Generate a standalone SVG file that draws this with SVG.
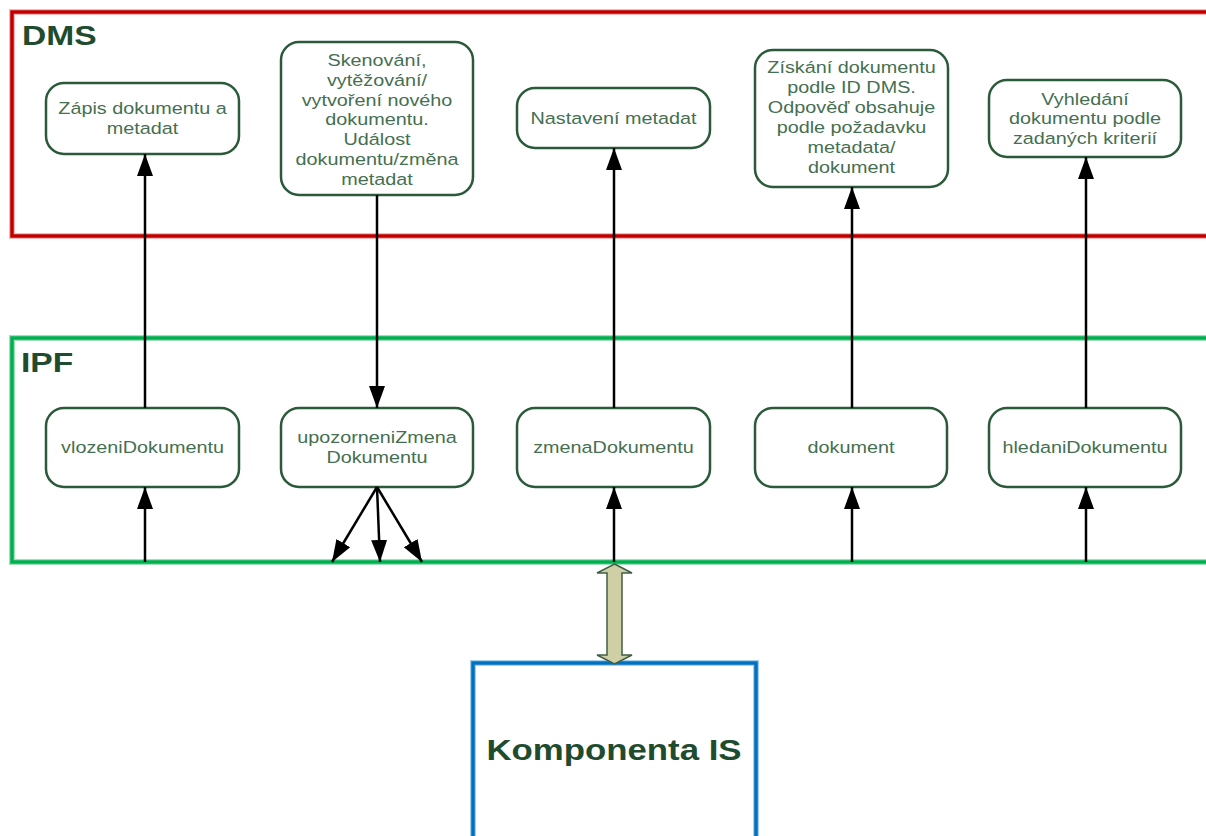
<svg xmlns="http://www.w3.org/2000/svg" width="1206" height="836" viewBox="0 0 1206 836">
  <defs>
    <marker id="ah" markerUnits="userSpaceOnUse" markerWidth="22" markerHeight="18" refX="22" refY="9" orient="auto">
      <path d="M0,1 L22,9 L0,17 Z" fill="#000"/>
    </marker>
    <style>
      .node rect { fill: #ffffff; stroke: #2b5a3a; stroke-width: 2.5; }
      .nt { font-family: "Liberation Sans", Arial, sans-serif; font-size: 16.5px; fill: #456f51; text-anchor: middle; }
      .lbl { font-family: "Liberation Sans", Arial, sans-serif; font-size: 28px; font-weight: bold; fill: #1f4c2e; }
      .conn line { stroke: #000; stroke-width: 2.5; fill: none; marker-end: url(#ah); }
    </style>
  </defs>
  <rect width="1206" height="836" fill="#ffffff"/>

  <g id="dms">
    <rect x="12" y="12" width="1210" height="224" fill="none" stroke="#f4b8b8" stroke-width="6"/>
    <rect x="12" y="12" width="1210" height="224" fill="none" stroke="#c00000" stroke-width="3.5"/>
    <text class="lbl" transform="translate(22 45) scale(1.2 1)" x="0" y="0">DMS</text>
  </g>

  <g id="ipf">
    <rect x="12" y="338" width="1210" height="224" fill="none" stroke="#9fe0b8" stroke-width="6"/>
    <rect x="12" y="338" width="1210" height="224" fill="none" stroke="#00b050" stroke-width="3.5"/>
    <text class="lbl" transform="translate(21 372) scale(1.2 1)" x="0" y="0">IPF</text>
  </g>

  <g id="komponenta">
    <rect x="473" y="663" width="283" height="200" fill="none" stroke="#a8cdea" stroke-width="6"/>
    <rect x="473" y="663" width="283" height="200" fill="none" stroke="#0070c0" stroke-width="3.5"/>
    <text class="lbl" style="font-size:29px" transform="translate(614 760) scale(1.2 1)" x="0" y="0" text-anchor="middle">Komponenta IS</text>
  </g>

  <g id="n1" class="node">
    <rect x="46" y="83" width="193" height="71" rx="18"/>
    <text class="nt" transform="translate(142.5 0) scale(1.2 1)"><tspan x="0" y="114">Zápis dokumentu a</tspan><tspan x="0" y="134">metadat</tspan></text>
  </g>
  <g id="n2" class="node">
    <rect x="281" y="42" width="192" height="153" rx="18"/>
    <text class="nt" transform="translate(377 0) scale(1.2 1)"><tspan x="0" y="66">Skenování,</tspan><tspan x="0" y="85.8">vytěžování/</tspan><tspan x="0" y="105.6">vytvoření nového</tspan><tspan x="0" y="125.4">dokumentu.</tspan><tspan x="0" y="145.2">Událost</tspan><tspan x="0" y="165">dokumentu/změna</tspan><tspan x="0" y="184.8">metadat</tspan></text>
  </g>
  <g id="n3" class="node">
    <rect x="517" y="88" width="193" height="60" rx="18"/>
    <text class="nt" transform="translate(613.5 0) scale(1.2 1)"><tspan x="0" y="124">Nastavení metadat</tspan></text>
  </g>
  <g id="n4" class="node">
    <rect x="755" y="50" width="193" height="137" rx="18"/>
    <text class="nt" transform="translate(851.5 0) scale(1.2 1)"><tspan x="0" y="73">Získání dokumentu</tspan><tspan x="0" y="93">podle ID DMS.</tspan><tspan x="0" y="113">Odpověď obsahuje</tspan><tspan x="0" y="133">podle požadavku</tspan><tspan x="0" y="153">metadata/</tspan><tspan x="0" y="173">dokument</tspan></text>
  </g>
  <g id="n5" class="node">
    <rect x="989" y="80" width="192" height="77" rx="18"/>
    <text class="nt" transform="translate(1085 0) scale(1.2 1)"><tspan x="0" y="105">Vyhledání</tspan><tspan x="0" y="124.5">dokumentu podle</tspan><tspan x="0" y="144">zadaných kriterií</tspan></text>
  </g>

  <g id="v1" class="node">
    <rect x="46" y="408" width="193" height="79" rx="18"/>
    <text class="nt" transform="translate(142.5 0) scale(1.2 1)"><tspan x="0" y="453">vlozeniDokumentu</tspan></text>
  </g>
  <g id="v2" class="node">
    <rect x="281" y="408" width="192" height="79" rx="18"/>
    <text class="nt" transform="translate(377 0) scale(1.2 1)"><tspan x="0" y="443">upozorneniZmena</tspan><tspan x="0" y="463">Dokumentu</tspan></text>
  </g>
  <g id="v3" class="node">
    <rect x="517" y="408" width="193" height="79" rx="18"/>
    <text class="nt" transform="translate(613.5 0) scale(1.2 1)"><tspan x="0" y="453">zmenaDokumentu</tspan></text>
  </g>
  <g id="v4" class="node">
    <rect x="755" y="408" width="192" height="79" rx="18"/>
    <text class="nt" transform="translate(851 0) scale(1.2 1)"><tspan x="0" y="453">dokument</tspan></text>
  </g>
  <g id="v5" class="node">
    <rect x="989" y="408" width="192" height="79" rx="18"/>
    <text class="nt" transform="translate(1085 0) scale(1.2 1)"><tspan x="0" y="453">hledaniDokumentu</tspan></text>
  </g>

  <g id="connectors" class="conn">
    <line x1="145" y1="408" x2="145" y2="154"/>
    <line x1="145" y1="562" x2="145" y2="487"/>
    <line x1="377" y1="195" x2="377" y2="408"/>
    <line x1="377" y1="487" x2="332" y2="562"/>
    <line x1="377" y1="487" x2="380" y2="562"/>
    <line x1="377" y1="487" x2="422" y2="562"/>
    <line x1="614" y1="408" x2="614" y2="148"/>
    <line x1="614" y1="562" x2="614" y2="487"/>
    <line x1="852" y1="408" x2="852" y2="187"/>
    <line x1="852" y1="562" x2="852" y2="487"/>
    <line x1="1086" y1="408" x2="1086" y2="157"/>
    <line x1="1086" y1="562" x2="1086" y2="487"/>
    <path d="M614.5 564 L632 573 L622 573 L622 655 L632 655 L614.5 664 L597 655 L607 655 L607 573 L597 573 Z" fill="#cfcfa6" stroke="#3f5f45" stroke-width="1.5"/>
  </g>
</svg>
